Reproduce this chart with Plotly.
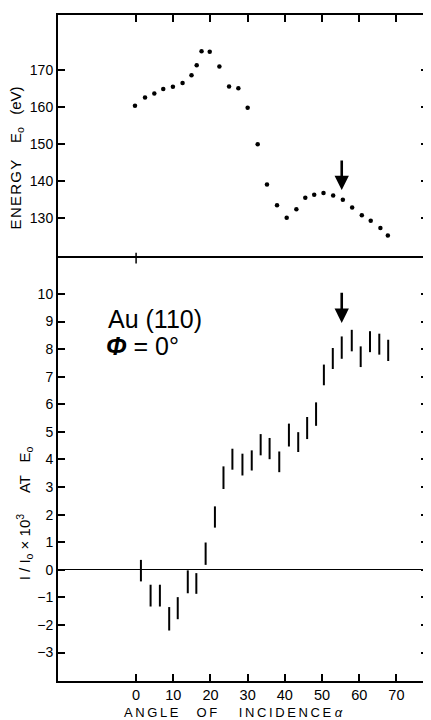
import plotly.graph_objects as go

# ---------------- data ----------------
# Upper panel: energy E0 (eV) of the feature vs angle of incidence
ANGLE_E = [-0.3, 2.4, 4.9, 7.3, 9.9, 12.5, 14.9, 16.3, 17.6, 19.8, 22.4, 25.0, 27.5,
           30.0, 32.7, 35.2, 37.9, 40.5, 43.1, 45.5, 47.9, 50.4, 53.0, 55.6, 58.1,
           60.7, 63.1, 65.7, 67.7]
ENERGY = [160.4, 162.6, 163.7, 164.9, 165.5, 166.5, 168.6, 171.3, 175.1, 175.0, 171.0,
          165.6, 165.1, 159.8, 150.0, 139.1, 133.5, 130.1, 132.4, 135.5, 136.3, 136.8,
          136.1, 135.0, 132.9, 130.8, 129.3, 127.3, 125.3]

# Lower panel: I/I0 x 10^3 at E0, shown as vertical error ranges
ANGLE_I = [1.3, 3.9, 6.4, 8.9, 11.2, 13.9, 16.2, 18.7, 21.2, 23.5, 25.9, 28.6, 31.1,
           33.5, 35.9, 38.5, 41.1, 43.6, 46.0, 48.4, 50.5, 52.9, 55.3, 58.0, 60.4,
           62.9, 65.4, 67.8]
I_LOW = [-0.42, -1.33, -1.33, -2.20, -1.79, -0.85, -0.87, 0.18, 1.53, 2.93, 3.63, 3.42,
         3.60, 4.15, 4.01, 3.54, 4.47, 4.27, 4.74, 5.22, 6.69, 7.28, 7.65, 7.92, 7.35,
         7.89, 7.80, 7.57]
I_HIGH = [0.36, -0.54, -0.54, -1.35, -0.99, -0.02, -0.12, 0.99, 2.30, 3.75, 4.39, 4.21,
          4.33, 4.92, 4.78, 4.29, 5.30, 4.99, 5.54, 6.07, 7.44, 8.04, 8.46, 8.70, 8.10,
          8.65, 8.56, 8.34]

X_TICKS = [0, 10, 20, 30, 40, 50, 60, 70]
E_TICKS = [130, 140, 150, 160, 170]
I_TICKS = [-3, -2, -1, 0, 1, 2, 3, 4, 5, 6, 7, 8, 9, 10]

# arrows marking the feature (angle, start value, end value)
ARROW_ANGLE = 55.3
ARROW_E = (146.0, 137.6)
ARROW_I = (10.1, 8.95)

FONT = "Liberation Sans, Arial, sans-serif"

I_MID = [(a + b) / 2 for a, b in zip(I_LOW, I_HIGH)]
I_HALF = [(b - a) / 2 for a, b in zip(I_LOW, I_HIGH)]

fig = go.Figure()

fig.add_trace(go.Scatter(
    x=ANGLE_E, y=ENERGY, mode="markers", xaxis="x2", yaxis="y",
    marker=dict(color="black", size=4.5), showlegend=False, hoverinfo="skip"))

fig.add_trace(go.Scatter(
    x=ANGLE_I, y=I_MID, mode="markers", xaxis="x", yaxis="y2",
    marker=dict(color="black", size=1, opacity=0),
    error_y=dict(type="data", array=I_HALF, symmetric=True, width=0,
                 thickness=2, color="black"),
    showlegend=False, hoverinfo="skip"))

XR = [-21, 78.5]
axis_common = dict(showline=True, linecolor="black", linewidth=2, ticks="inside",
                   ticklen=7, tickwidth=1.6, tickcolor="black", showgrid=False,
                   automargin=False,
                   tickfont=dict(family=FONT, size=14, color="black"))

# page body has an 8px default margin: figure sized/margined to compensate
fig.update_layout(
    width=423, height=712,
    margin=dict(l=50, r=3, t=7, b=39),
    paper_bgcolor="white", plot_bgcolor="white",
    xaxis=dict(domain=[0, 1], anchor="y2", range=XR, tickvals=X_TICKS,
               mirror=True, zeroline=False, **{**axis_common,
               "tickfont": dict(family=FONT, size=14.5, color="black")}),
    xaxis2=dict(domain=[0, 1], anchor="y", range=XR, tickvals=X_TICKS, side="top",
                showticklabels=False, matches="x", zeroline=False, **axis_common),
    yaxis=dict(domain=[0.635, 1], anchor="x2", range=[119.2, 184.9], tickvals=E_TICKS,
               mirror="ticks", zeroline=False, **axis_common),
    yaxis2=dict(domain=[0, 0.635], anchor="x", range=[-4.03, 11.3], tickvals=I_TICKS,
                mirror="ticks", zeroline=True, zerolinecolor="black", zerolinewidth=1.3,
                **axis_common),
)

# small tick on the panel divider at angle 0
fig.add_shape(type="line", xref="x", yref="paper", x0=X_TICKS[0], x1=X_TICKS[0],
              y0=0.635 - 0.008, y1=0.635 + 0.008, line=dict(color="black", width=1.5))

# arrows
fig.add_annotation(x=ARROW_ANGLE, y=ARROW_E[1], ax=ARROW_ANGLE, ay=ARROW_E[0],
                   xref="x2", yref="y", axref="x2", ayref="y", text="",
                   showarrow=True, arrowhead=2, arrowsize=1.1, arrowwidth=2.6,
                   arrowcolor="black")
fig.add_annotation(x=ARROW_ANGLE, y=ARROW_I[1], ax=ARROW_ANGLE, ay=ARROW_I[0],
                   xref="x", yref="y2", axref="x", ayref="y2", text="",
                   showarrow=True, arrowhead=2, arrowsize=1.1, arrowwidth=2.6,
                   arrowcolor="black")

# panel labels
fig.add_annotation(x=-8.0, y=9.1, xref="x", yref="y2", text="Au (110)",
                   showarrow=False, xanchor="left",
                   font=dict(family=FONT, size=25, color="black"))
fig.add_annotation(x=-8.6, y=8.1, xref="x", yref="y2",
                   text="<i><b>Φ</b></i> = 0°",
                   showarrow=False, xanchor="left",
                   font=dict(family=FONT, size=25, color="black"))

NB = "\u00a0"
TS = "\u2009"
HS = "\u200a"
# axis titles
energy_word = HS.join("ENERGY")
fig.add_annotation(
    x=-0.112, xref="paper", y=146.3, yref="y", xanchor="center", yanchor="middle",
    text=f"{energy_word}{NB * 4}E<sub>o</sub>{NB * 3}(eV)",
    textangle=-90, showarrow=False, font=dict(family=FONT, size=15, color="black"))
fig.add_annotation(
    x=-0.092, xref="paper", y=2.05, yref="y2", xanchor="center", yanchor="middle",
    text=f"I{NB}/{NB}I<sub>o</sub>{NB}×{NB}10<sup>3</sup>{NB * 5}AT{NB * 3}E<sub>o</sub>",
    textangle=-90, showarrow=False, font=dict(family=FONT, size=15, color="black"))
fig.add_annotation(
    x=26.2, xref="x", y=-0.047, yref="paper", xanchor="center", yanchor="middle",
    text=f"{TS.join('ANGLE')}{NB * 5}{TS.join('OF')}{NB * 6}{TS.join('INCIDENCE')}{NB}<i>α</i>",
    showarrow=False, font=dict(family=FONT, size=13, color="black"))

fig.write_html("out.html")
